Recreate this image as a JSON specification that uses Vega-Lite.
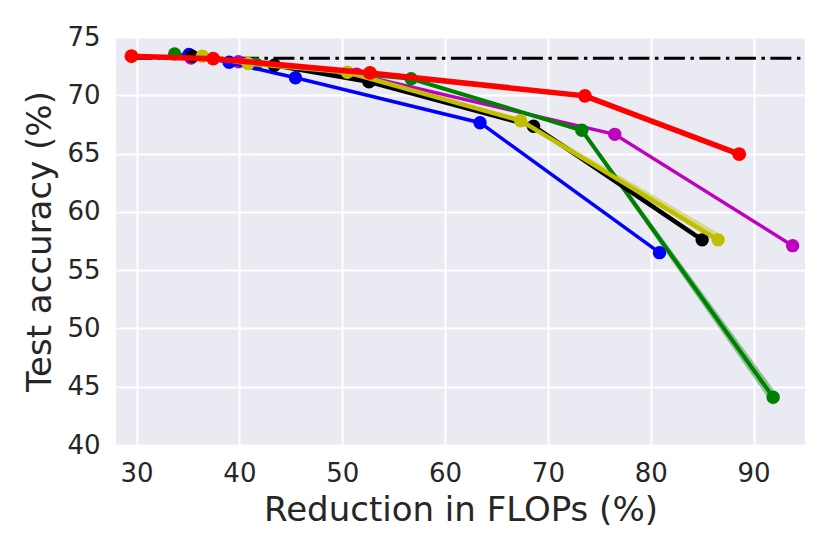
{
  "$schema": "https://vega.github.io/schema/vega-lite/v6.json",
  "width": 689,
  "height": 408,
  "autosize": {"type": "none"},
  "padding": {"left": 116, "top": 37, "right": 25, "bottom": 109},
  "background": "white",
  "config": {
    "view": {"fill": "#EAEAF2", "stroke": null},
    "axis": {
      "grid": true, "gridColor": "white", "gridWidth": 2,
      "domain": false, "ticks": false,
      "labelFont": "DejaVu Sans", "labelFontSize": 26, "labelColor": "#262626",
      "titleFont": "DejaVu Sans", "titleFontSize": 34, "titleFontWeight": "normal", "titleColor": "#262626"
    }
  },
  "datasets": {
    "base": [{"x": 29.5, "y": 73.18}, {"x": 95, "y": 73.18}],
    "runs": [
      {"s": "s1", "x": 29.5, "y": 73.35, "lo": 73.35, "hi": 73.35},
      {"s": "s1", "x": 37.45, "y": 73.14, "lo": 73.14, "hi": 73.14},
      {"s": "s1", "x": 52.7, "y": 71.92, "lo": 71.92, "hi": 71.92},
      {"s": "s1", "x": 73.6, "y": 69.95, "lo": 69.85, "hi": 70.05},
      {"s": "s1", "x": 88.6, "y": 64.95, "lo": 64.8, "hi": 65.1},
      {"s": "s2", "x": 33.7, "y": 73.55, "lo": 73.55, "hi": 73.55},
      {"s": "s2", "x": 41.6, "y": 72.68, "lo": 72.6, "hi": 72.76},
      {"s": "s2", "x": 56.7, "y": 71.42, "lo": 71.32, "hi": 71.52},
      {"s": "s2", "x": 73.3, "y": 67.0, "lo": 66.8, "hi": 67.2},
      {"s": "s2", "x": 91.9, "y": 44.1, "lo": 43.4, "hi": 44.8},
      {"s": "s3", "x": 35.1, "y": 73.5, "lo": 73.5, "hi": 73.5},
      {"s": "s3", "x": 39.0, "y": 72.83, "lo": 72.83, "hi": 72.83},
      {"s": "s3", "x": 45.45, "y": 71.5, "lo": 71.5, "hi": 71.5},
      {"s": "s3", "x": 63.4, "y": 67.65, "lo": 67.65, "hi": 67.65},
      {"s": "s3", "x": 80.85, "y": 56.5, "lo": 56.5, "hi": 56.5},
      {"s": "s4", "x": 35.4, "y": 73.35, "lo": 73.35, "hi": 73.35},
      {"s": "s4", "x": 43.4, "y": 72.58, "lo": 72.58, "hi": 72.58},
      {"s": "s4", "x": 52.6, "y": 71.15, "lo": 71.15, "hi": 71.15},
      {"s": "s4", "x": 68.6, "y": 67.35, "lo": 67.3, "hi": 67.4},
      {"s": "s4", "x": 85.0, "y": 57.6, "lo": 57.5, "hi": 57.7},
      {"s": "s5", "x": 36.4, "y": 73.35, "lo": 73.35, "hi": 73.35},
      {"s": "s5", "x": 40.85, "y": 72.72, "lo": 72.65, "hi": 72.8},
      {"s": "s5", "x": 50.5, "y": 71.97, "lo": 71.87, "hi": 72.1},
      {"s": "s5", "x": 67.35, "y": 67.82, "lo": 67.65, "hi": 68.05},
      {"s": "s5", "x": 86.55, "y": 57.6, "lo": 57.3, "hi": 58.2},
      {"s": "s6", "x": 35.3, "y": 73.2, "lo": 73.2, "hi": 73.2},
      {"s": "s6", "x": 39.9, "y": 72.88, "lo": 72.88, "hi": 72.88},
      {"s": "s6", "x": 51.4, "y": 71.8, "lo": 71.8, "hi": 71.8},
      {"s": "s6", "x": 76.5, "y": 66.65, "lo": 66.65, "hi": 66.65},
      {"s": "s6", "x": 93.8, "y": 57.1, "lo": 57.1, "hi": 57.1}
    ]
  },
  "encoding": {
    "x": {
      "field": "x", "type": "quantitative",
      "scale": {"domain": [28, 95], "nice": false, "zero": false},
      "axis": {"values": [30, 40, 50, 60, 70, 80, 90], "title": "Reduction in FLOPs (%)", "labelPadding": 15, "titlePadding": 7}
    },
    "y": {
      "field": "y", "type": "quantitative",
      "scale": {"domain": [40, 75], "nice": false, "zero": false},
      "axis": {"values": [40, 45, 50, 55, 60, 65, 70, 75], "title": "Test accuracy (%)", "labelPadding": 16, "titlePadding": 9}
    },
    "color": {
      "field": "s", "type": "nominal", "legend": null,
      "scale": {"domain": ["s1", "s2", "s3", "s4", "s5", "s6"], "range": ["#FF0000", "#008000", "#0000FF", "#000000", "#BFBF00", "#BF00BF"]}
    }
  },
  "layer": [
    {
      "data": {"name": "base"},
      "mark": {"type": "line", "color": "black", "strokeWidth": 3, "strokeDash": [21, 5.5, 3.5, 5.5]},
      "encoding": {"color": {"value": "black"}}
    },
    {
      "data": {"name": "runs"},
      "transform": [{"filter": "datum.s === 's5' || datum.s === 's2' || datum.s === 's4'"}],
      "mark": {"type": "area", "opacity": 0.4},
      "encoding": {
        "y": {"field": "lo", "type": "quantitative", "title": "Test accuracy (%)"},
        "y2": {"field": "hi"}
      }
    },
    {
      "data": {"name": "runs"},
      "transform": [{"filter": "datum.s === 's6'"}],
      "mark": {"type": "line", "strokeWidth": 3.5, "point": {"filled": true, "size": 180, "opacity": 1}}
    },
    {
      "data": {"name": "runs"},
      "transform": [{"filter": "datum.s === 's2'"}],
      "mark": {"type": "line", "strokeWidth": 4, "point": {"filled": true, "size": 180, "opacity": 1}}
    },
    {
      "data": {"name": "runs"},
      "transform": [{"filter": "datum.s === 's3'"}],
      "mark": {"type": "line", "strokeWidth": 3.5, "point": {"filled": true, "size": 180, "opacity": 1}}
    },
    {
      "data": {"name": "runs"},
      "transform": [{"filter": "datum.s === 's4'"}],
      "mark": {"type": "line", "strokeWidth": 4.5, "point": {"filled": true, "size": 180, "opacity": 1}}
    },
    {
      "data": {"name": "runs"},
      "transform": [{"filter": "datum.s === 's5'"}],
      "mark": {"type": "line", "strokeWidth": 4.5, "point": {"filled": true, "size": 180, "opacity": 1}}
    },
    {
      "data": {"name": "runs"},
      "transform": [{"filter": "datum.s === 's1'"}],
      "mark": {"type": "line", "strokeWidth": 5.5, "point": {"filled": true, "size": 190, "opacity": 1}}
    }
  ]
}
